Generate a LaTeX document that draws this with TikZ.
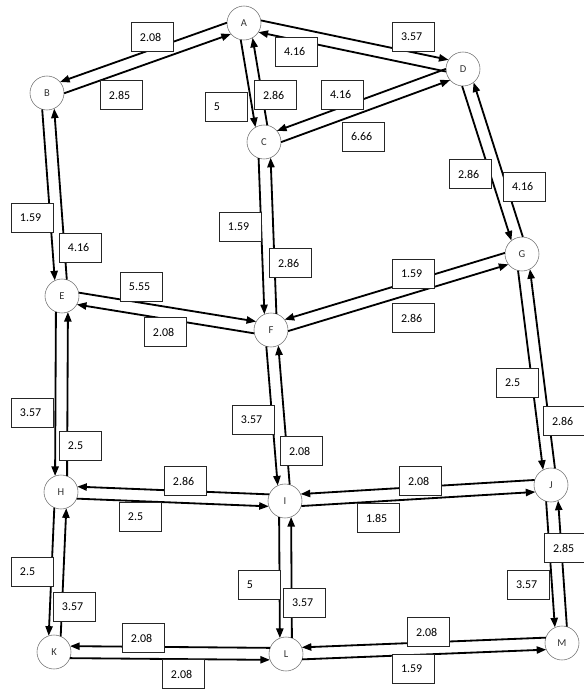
\documentclass[tikz,border=0pt]{standalone}
\usepackage{fontspec}
\setmainfont{Carlito}
\usetikzlibrary{arrows.meta,calc}
\tikzset{
  junction/.style={
    circle, draw=black!55, thin, fill=white,
    minimum size=0.85cm, inner sep=0pt,
    font=\fontsize{7.5}{8}\selectfont, text=black!80
  },
  weight/.style={
    draw=black!85, line width=0.6pt, fill=white,
    text width=0.6cm, inner xsep=0.225cm, minimum height=0.74cm,
    align=left, font=\fontsize{8.5}{9}\selectfont
  },
  flow/.style={
    -{Triangle[length=2.4mm,width=1.8mm]}, line width=1.3pt,
    to path={($(\tikztostart)!0.4cm!(\tikztotarget)!0.15cm!-90:(\tikztotarget)$)
      -- ($(\tikztotarget)!0.4cm!(\tikztostart)!0.15cm!90:(\tikztostart)$)}
  },
  flowleft/.style={
    flow,
    to path={($(\tikztostart)!0.4cm!(\tikztotarget)!0.15cm!90:(\tikztotarget)$)
      -- ($(\tikztotarget)!0.4cm!(\tikztostart)!0.15cm!-90:(\tikztostart)$)}
  }
}

\begin{document}
\begin{tikzpicture}[x=0.025cm,y=-0.025cm]
  \useasboundingbox (0,0) rectangle (584,690);
  % junctions
  \node[junction] (A) at (244,23) {A};
  \node[junction] (B) at (47,93) {B};
  \node[junction] (C) at (264,142) {C};
  \node[junction] (D) at (463,69) {D};
  \node[junction] (E) at (62,296) {E};
  \node[junction] (F) at (271,330) {F};
  \node[junction] (G) at (522,254) {G};
  \node[junction] (H) at (61,492) {H};
  \node[junction] (I) at (285,501) {I};
  \node[junction] (J) at (551,485) {J};
  \node[junction] (K) at (54,652) {K};
  \node[junction] (L) at (286,654) {L};
  \node[junction] (M) at (562,643) {M};
  % two-way links
  \foreach \s/\t in {A/B,A/C,D/C,D/G,B/E,C/F,G/F,G/J,E/H,F/I,I/H,J/I,H/K,I/L,L/K,J/M,M/L}{
    \draw[flow] (\s) to (\t);
    \draw[flow] (\t) to (\s);
  }
  \draw[flowleft] (A) to (D);
  \draw[flowleft] (D) to (A);
  \draw[flowleft] (E) to (F);
  \draw[flowleft] (F) to (E);
  % weights
  \node[weight] (wAB) at (152,37) {2.08};
  \node[weight] (wBA) at (121,95) {2.85};
  \node[weight] (wAD) at (413,37) {3.57};
  \node[weight] (wDA) at (296,52) {4.16};
  \node[weight] (wAC) at (226,107) {5};
  \node[weight] (wCA) at (275,95) {2.86};
  \node[weight] (wDC) at (342,95) {4.16};
  \node[weight] (wCD) at (363,137) {6.66};
  \node[weight] (wDG) at (470,174) {2.86};
  \node[weight] (wGD) at (524,187) {4.16};
  \node[weight] (wBE) at (32,218) {1.59};
  \node[weight] (wEB) at (80,248) {4.16};
  \node[weight] (wEF) at (141,287) {5.55};
  \node[weight] (wFE) at (165,332) {2.08};
  \node[weight] (wCF) at (240,227) {1.59};
  \node[weight] (wFC) at (290,263) {2.86};
  \node[weight] (wGF) at (413,274) {1.59};
  \node[weight] (wFG) at (413,318) {2.86};
  \node[weight] (wGJ) at (517,383) {2.5};
  \node[weight] (wJG) at (564,421) {2.86};
  \node[weight] (wEH) at (32,413) {3.57};
  \node[weight] (wHE) at (80,446) {2.5};
  \node[weight] (wFI) at (253,420) {3.57};
  \node[weight] (wIF) at (301,451) {2.08};
  \node[weight] (wIH) at (185,481) {2.86};
  \node[weight] (wHI) at (140,517) {2.5};
  \node[weight] (wJI) at (420,481) {2.08};
  \node[weight] (wIJ) at (378,518) {1.85};
  \node[weight] (wHK) at (32,572) {2.5};
  \node[weight] (wKH) at (74,607) {3.57};
  \node[weight] (wIL) at (259,585) {5};
  \node[weight] (wLI) at (304,603) {3.57};
  \node[weight] (wLK) at (143,638) {2.08};
  \node[weight] (wKL) at (183,674) {2.08};
  \node[weight] (wJM) at (528,585) {3.57};
  \node[weight] (wMJ) at (565,548) {2.85};
  \node[weight] (wML) at (428,632) {2.08};
  \node[weight] (wLM) at (413,669) {1.59};
\end{tikzpicture}
\end{document}
